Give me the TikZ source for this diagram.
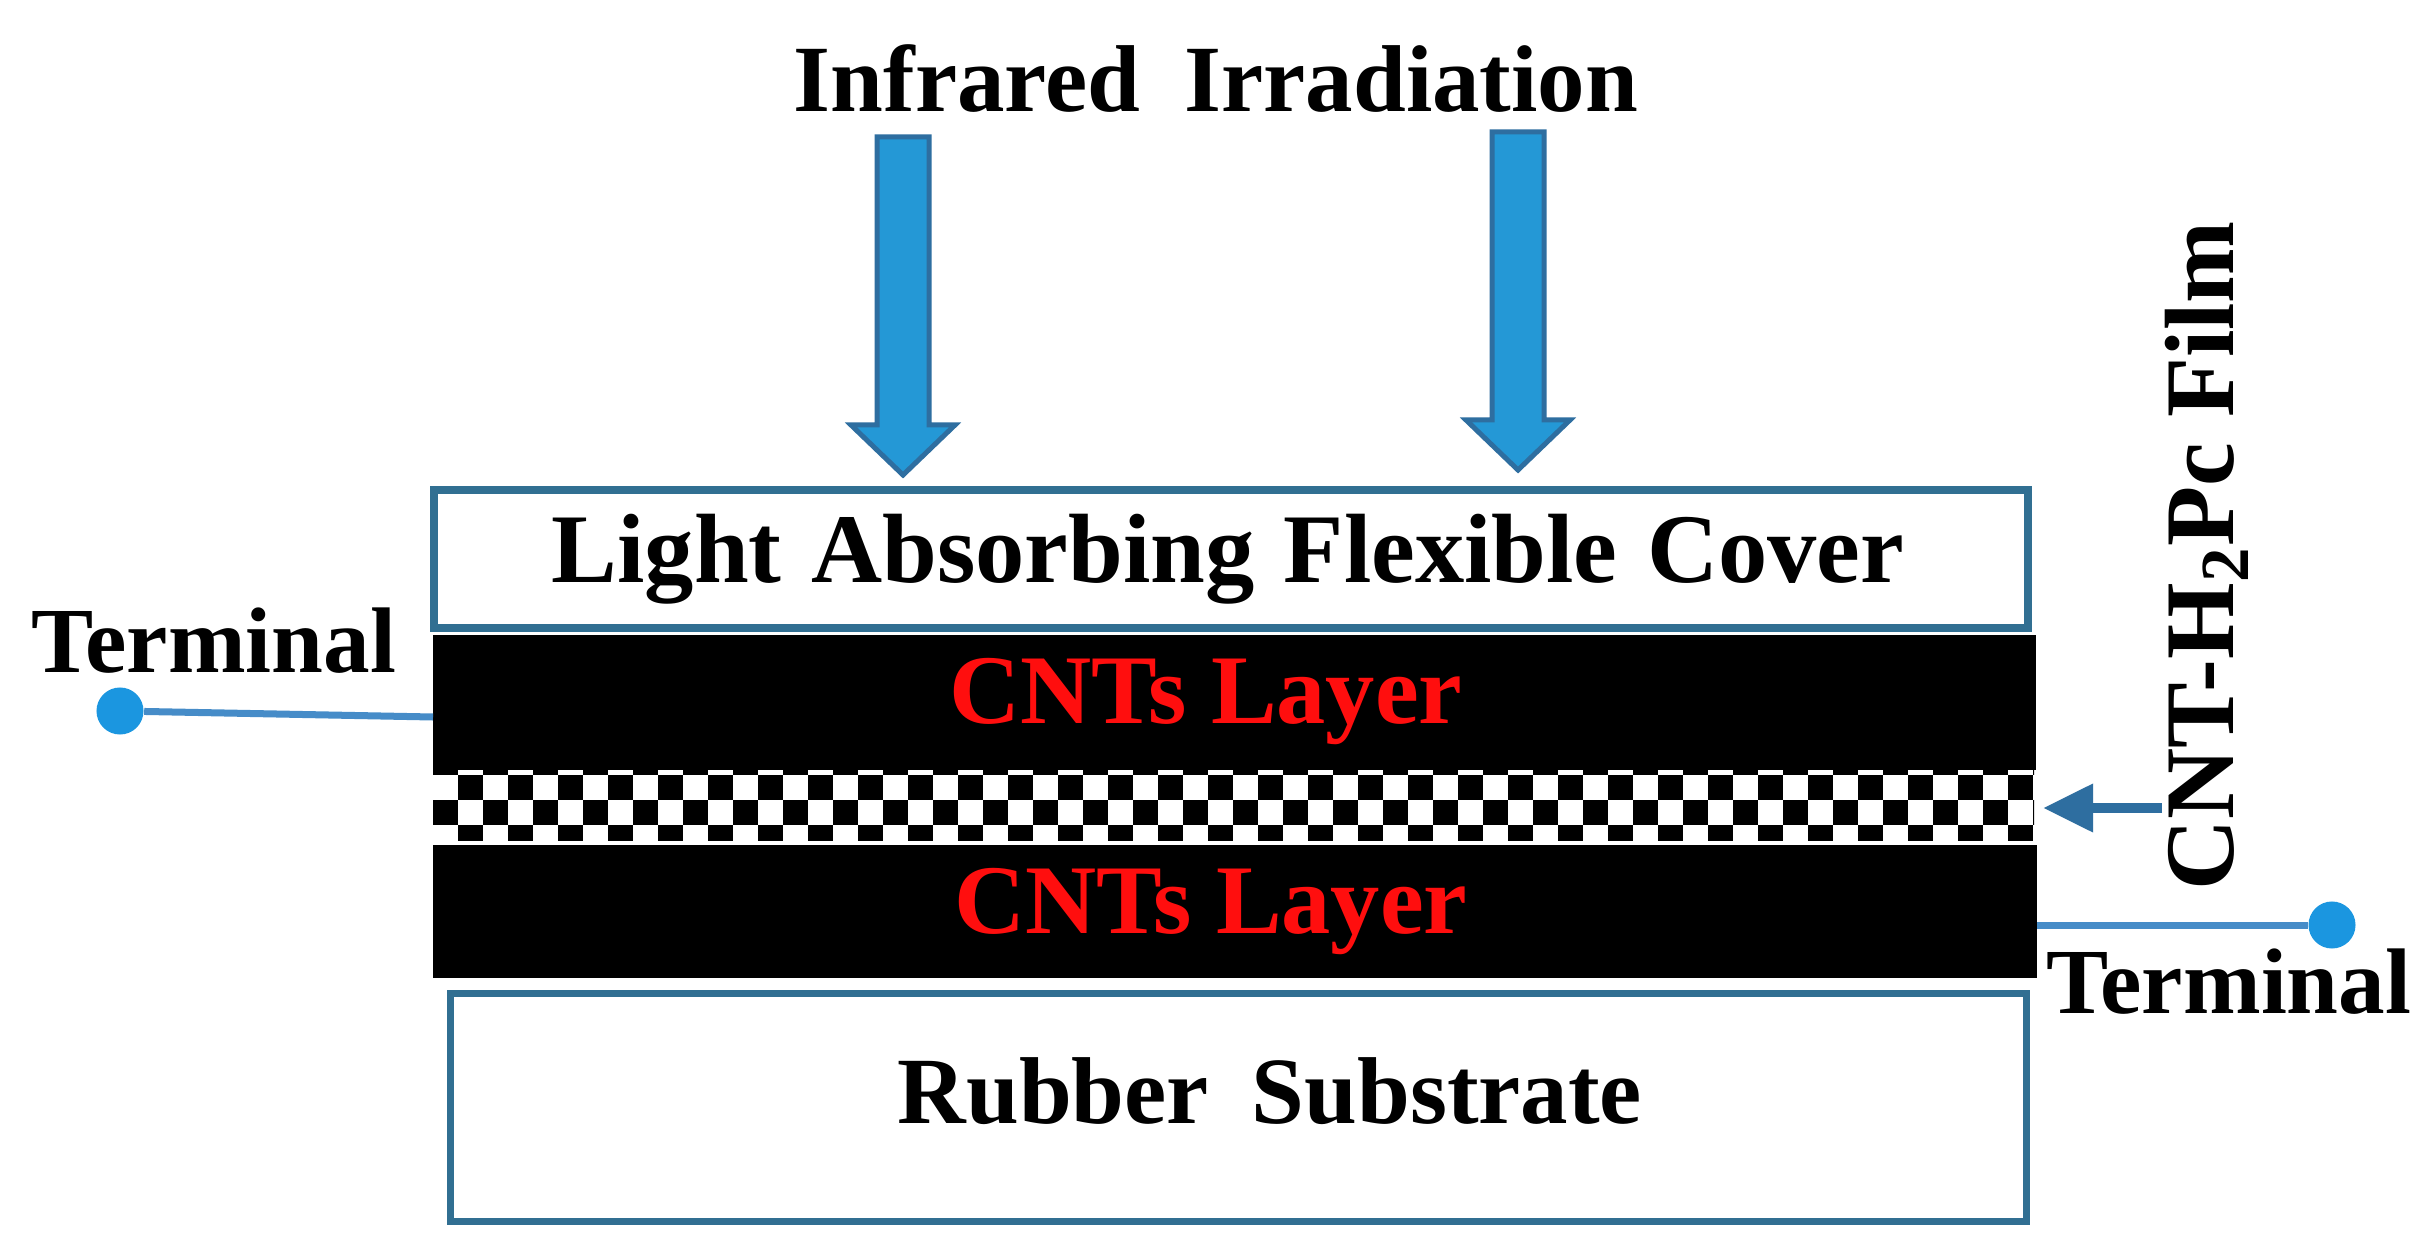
\documentclass[tikz,border=0pt]{standalone}
\usepackage{fontspec}
\setmainfont{Liberation Serif}
\usetikzlibrary{arrows.meta}
\definecolor{arrowfill}{RGB}{36,152,214}
\definecolor{arrowline}{RGB}{46,110,160}
\definecolor{boxline}{RGB}{49,111,146}
\definecolor{dotfill}{RGB}{27,150,224}
\definecolor{wireline}{RGB}{70,140,200}
\definecolor{cntred}{RGB}{255,14,14}
\begin{document}
\begin{tikzpicture}[x=0.01cm,y=-0.01cm,
  lbl/.style={inner sep=0pt, anchor=base, font=\bfseries\fontsize{27pt}{30pt}\selectfont},
  bigl/.style={inner sep=0pt, anchor=base, font=\bfseries\fontsize{28pt}{32pt}\selectfont},
  blockarrow/.style={fill=arrowfill, draw=arrowline, line width=0.05cm, line join=miter},
  outlinebox/.style={draw=boxline, line width=0.08cm, fill=white, inner sep=0pt},
  cntlayer/.style={fill=black, inner sep=0pt},
  tdot/.style={circle, fill=dotfill, inner sep=0pt, minimum size=0.47cm},
  wire/.style={draw=wireline, line width=0.07cm},
  filmarrow/.style={draw=arrowline, line width=0.1cm, -{Triangle[length=0.5cm,width=0.46cm]}}
]
\fill[white] (0,0) rectangle (2433,1255);
\useasboundingbox (0,0) rectangle (2433,1255);

% title
\node[lbl] (title) at (1216,112) {Infrared\hspace{0.47em}Irradiation};

% block arrows
\filldraw[blockarrow] (877,137) -- (929,137) -- (929,425) -- (955,425) -- (903,475) -- (851,425) -- (877,425) -- cycle;
\filldraw[blockarrow] (1492,132) -- (1544,132) -- (1544,420) -- (1570,420) -- (1518,470) -- (1466,420) -- (1492,420) -- cycle;

% cover
\node[outlinebox, minimum width=15.94cm, minimum height=1.38cm] (cover) at (1231,559) {};
\node[bigl] (covertext) at (1228,583) {Light\hspace{0.3em}Absorbing\hspace{0.3em}Flexible\hspace{0.3em}Cover};

% CNT layers
\node[cntlayer, minimum width=16.03cm, minimum height=1.35cm] (cnt1) at (1234.5,702.5) {};
\node[bigl, text=cntred] (cnt1text) at (1206,723) {CNTs Layer};

\begin{scope}
\clip (433,770) rectangle (2034,840);
\foreach \i in {-1,...,64} {
  \foreach \j in {0,...,3} {
    \pgfmathtruncatemacro\k{mod(\i+\j+100,2)}
    \ifnum\k=1 \fill[black] ({458+25*\i},{750+25*\j}) rectangle +(25,25); \fi
  }
}
\end{scope}

\node[cntlayer, minimum width=16.04cm, minimum height=1.33cm] (cnt2) at (1235,911.5) {};
\node[bigl, text=cntred] (cnt2text) at (1211,933) {CNTs Layer};

% rubber
\node[outlinebox, line width=0.07cm, minimum width=15.75cm, minimum height=2.27cm] (rubber) at (1238.5,1107.5) {};
\node[lbl] (rubbertext) at (1270,1123) {Rubber\hspace{0.45em}Substrate};

% terminals
\node[tdot] (tl) at (120,711) {};
\coordinate (tlend) at (433,717);
\draw[wire] (tl) -- (tlend);
\node[lbl, font=\bfseries\fontsize{26.5pt}{30pt}\selectfont] (tltext) at (214,672) {Terminal};

\node[tdot] (tr) at (2332,925) {};
\coordinate (trend) at (2037,925);
\draw[wire] (tr) -- (trend);
\node[lbl, font=\bfseries\fontsize{26.5pt}{30pt}\selectfont] (trtext) at (2229,1013) {Terminal};

% film label and arrow
\node[lbl, rotate=90, font=\bfseries\fontsize{28pt}{32pt}\selectfont] (film) at (2233,556) {CNT-H\textsubscript{2}Pc Film};
\coordinate (fa) at (2162,808);
\coordinate (fb) at (2043,808);
\draw[filmarrow] (fa) -- (fb);
\end{tikzpicture}
\end{document}
